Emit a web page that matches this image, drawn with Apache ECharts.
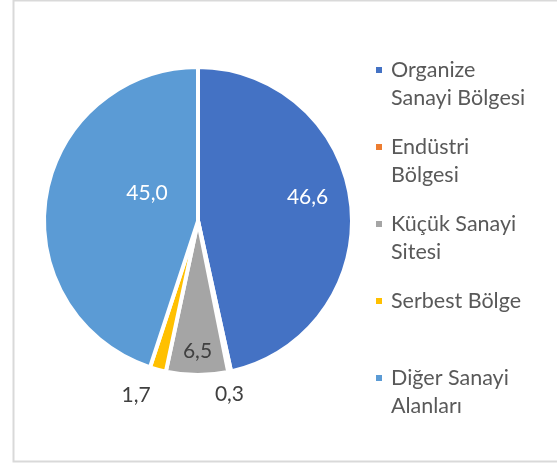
<!DOCTYPE html>
<html>
<head>
<meta charset="utf-8">
<script src="https://cdn.jsdelivr.net/npm/echarts@6/dist/echarts.min.js"></script>
<style>
  html, body { margin: 0; padding: 0; background: #fff; }
  #chart { width: 557px; height: 464px; }
</style>
</head>
<body>
<div id="chart"></div>
<script>
// pie data, clockwise from 12 o'clock
const categories = [
  "Organize Sanayi Bölgesi",
  "Endüstri Bölgesi",
  "Küçük Sanayi Sitesi",
  "Serbest Bölge",
  "Diğer Sanayi Alanları",
];
// blank first line so the icon lines up with the first text line
const legendLines = [
  " \nOrganize\nSanayi Bölgesi",
  " \nEndüstri\nBölgesi",
  " \nKüçük Sanayi\nSitesi",
  " \nSerbest Bölge\n ",
  " \nDiğer Sanayi\nAlanları",
];
const values = [46.6, 0.3, 6.5, 1.7, 45.0];
const colors = ["#4472C4", "#ED7D31", "#A5A5A5", "#FFC000", "#5B9BD5"];
const labelColors = ["#ffffff", "#404040", "#404040", "#404040", "#ffffff"];

// nudges so labels sit where excel put them
const labelShift = [[30, -15], [15, 95], [0, 50], [-41, 97], [28, -15]];

const font = "Lato, 'Open Sans', sans-serif";

let chart = echarts.init(document.getElementById("chart"));

let option = {
  animation: false,
  color: colors,
  graphic: [
    {
      type: "rect",
      shape: { x: 13.5, y: 0.5, width: 600, height: 461 },
      style: { fill: "none", stroke: "#D9D9D9", lineWidth: 2 },
      silent: true,
    },
  ],
  legend: {
    orient: "vertical",
    left: 374,
    top: 28,
    padding: 0,
    itemWidth: 8,
    itemHeight: 8,
    itemGap: -7,
    icon: "rect",
    data: categories,
    formatter: function (name) {
      return legendLines[categories.indexOf(name)];
    },
    textStyle: {
      fontFamily: font,
      fontSize: 21.5,
      lineHeight: 28,
      color: "#595959",
      padding: [0, 0, 0, 3],
    },
  },
  series: [
    {
      type: "pie",
      center: [198, 221],
      radius: 154,
      startAngle: 90,
      clockwise: true,
      avoidLabelOverlap: false,
      itemStyle: {
        borderColor: "#fff",
        borderWidth: 4,
      },
      label: {
        show: true,
        position: "inside",
        fontFamily: font,
        fontSize: 21,
        formatter: function (p) {
          return p.value.toFixed(1).replace(".", ",");
        },
      },
      labelLine: { show: false },
      labelLayout: function (params) {
        let s = labelShift[params.dataIndex];
        return { dx: s[0], dy: s[1] };
      },
      emphasis: { disabled: true },
      data: values.map(function (v, i) {
        return {
          name: categories[i],
          value: v,
          label: { color: labelColors[i] },
        };
      }),
    },
  ],
};

chart.setOption(option);
</script>
</body>
</html>
